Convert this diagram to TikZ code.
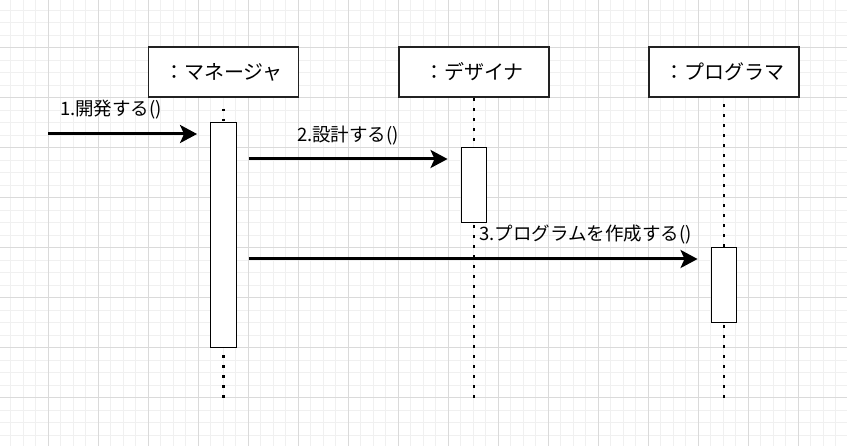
\documentclass[tikz,border=0pt]{standalone}
\usepackage{fontspec}
\setmainfont{Noto Sans CJK JP}
\usetikzlibrary{arrows.meta}

\definecolor{gridmajor}{HTML}{DADADA}
\definecolor{gridminor}{HTML}{F0F0F0}
\definecolor{boxline}{HTML}{222222}

\tikzset{
  minorgrid/.style={draw=gridminor, line width=1pt},
  majorgrid/.style={draw=gridmajor, line width=1pt},
  objbox/.style={draw=boxline, line width=1.4pt, fill=white, minimum width=150pt,
    minimum height=50pt, inner sep=0pt, font=\fontsize{20}{22}\selectfont},
  actbox/.style={draw=black, line width=1.4pt, fill=white, minimum width=25.5pt,
    inner sep=0pt, anchor=north},
  lifeline/.style={draw=black, line width=2.6pt, dash pattern=on 2.6pt off 7.4pt},
  msg/.style={draw=black, line width=3pt,
    -{Stealth[length=17pt, width=18pt, inset=4pt]}},
  msglabel/.style={inner sep=0pt, font=\fontsize{18.5}{20}\selectfont},
}

\begin{document}
\begin{tikzpicture}[x=1pt, y=-1pt]
  \useasboundingbox (0,0) rectangle (847,446);
  \fill[white] (0,0) rectangle (847,446);

  % background grid
  \foreach \i in {0,...,67} \draw[minorgrid] ({10.5+12.5*\i},0) -- ++(0,446);
  \foreach \i in {0,...,34} \draw[minorgrid] (0,{10.5+12.5*\i}) -- ++(847,0);
  \foreach \i in {0,...,15} \draw[majorgrid] ({48+50*\i},0) -- ++(0,446);
  \foreach \i in {0,...,7} \draw[majorgrid] (0,{48+50*\i}) -- ++(847,0);

  % objects
  \node[objbox] (mgr) at (223.5,72) {：マネージャ};
  \node[objbox] (des) at (474,72) {：デザイナ};
  \node[objbox] (prg) at (724,72) {：プログラマ};

  % activations
  \node[actbox, minimum height=225pt] (mact) at (223.5,122) {};
  \node[actbox, minimum height=75pt] (dact) at (474,147) {};
  \node[actbox, minimum height=75pt] (pact) at (724,247) {};

  % lifeline ends
  \coordinate (mend) at (223.5,398);
  \coordinate (dend) at (474,398);
  \coordinate (pend) at (724,398);

  % lifelines (dotted, each piece starting where its first dot falls)
  \draw[lifeline, shorten <=11pt] (mgr.south) -- (mact.north);
  \draw[lifeline, shorten <=6.7pt] (mact.south) -- (mend);
  \draw[lifeline, shorten <=0.7pt] (des.south) -- (dact.north);
  \draw[lifeline, shorten <=1.7pt] (dact.south) -- (dend);
  \draw[lifeline, shorten <=6.7pt] (prg.south) -- (pact.north);
  \draw[lifeline, shorten <=1.7pt] (pact.south) -- (pend);

  % messages
  \coordinate (in1) at (48,134);
  \coordinate (row2) at (0,159);
  \coordinate (row3) at (0,259);
  \draw[msg, shorten >=13pt] (in1) -- (mact.west |- in1);
  \draw[msg, shorten <=12pt, shorten >=13pt] (mact.east |- row2) -- (dact.west |- row2);
  \draw[msg, shorten <=12pt, shorten >=13pt] (mact.east |- row3) -- (pact.west |- row3);

  % message labels
  \node[msglabel] (l1) at (111,110) {1.開発する()};
  \node[msglabel] (l2) at (348,136) {2.設計する()};
  \node[msglabel] (l3) at (585.5,235) {3.プログラムを作成する()};
\end{tikzpicture}
\end{document}
